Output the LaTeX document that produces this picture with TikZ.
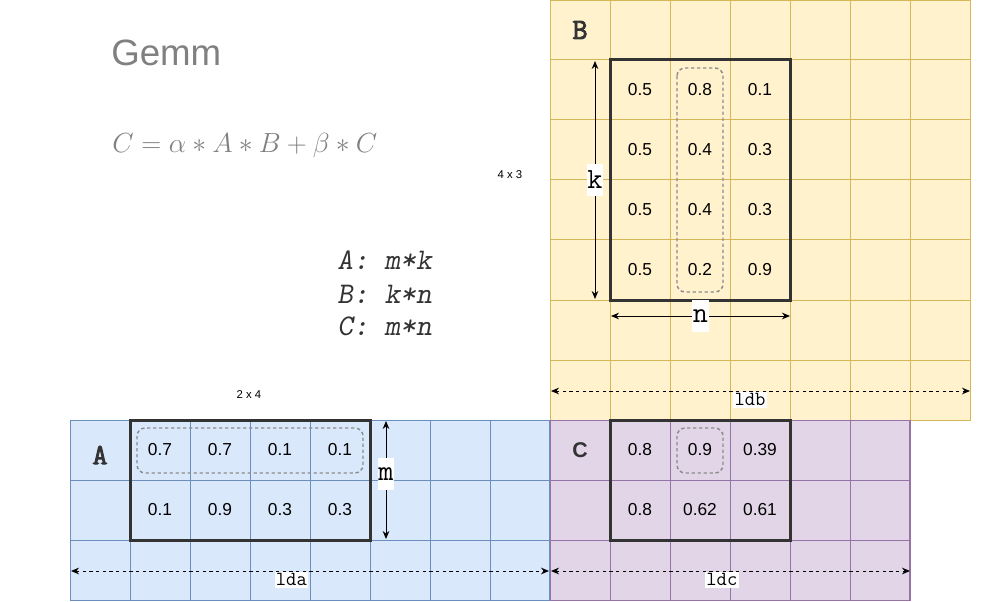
\documentclass[tikz,border=0pt]{standalone}
\usepackage[no-math]{fontspec}
\setmainfont{Liberation Sans}
\newfontfamily\monobold{Latin Modern Mono}[FakeBold=3]
\usepackage{tikz}
\usetikzlibrary{positioning,arrows.meta}
\definecolor{yfill}{HTML}{FFF2CC}
\definecolor{ystroke}{HTML}{D6B656}
\definecolor{bfill}{HTML}{DAE8FC}
\definecolor{bstroke}{HTML}{6C8EBF}
\definecolor{pfill}{HTML}{E1D5E7}
\definecolor{pstroke}{HTML}{9673A6}
\definecolor{darkline}{HTML}{333333}
\definecolor{selgray}{HTML}{8C8C8C}
\definecolor{titlegray}{HTML}{808080}

\begin{document}
\begin{tikzpicture}[
                x=0.75pt, y=-0.75pt,
                cell/.style={rectangle, minimum size=45pt, inner sep=0pt, outer sep=0pt, font=\fontsize{13}{15}\selectfont},
                gridline/.style={line width=0.75pt},
                matbox/.style={draw=darkline, line width=2.25pt},
                selbox/.style={draw=selgray, line width=1.1pt, dash pattern=on 2.5pt off 2pt, rounded corners=6pt},
                dimarrow/.style={{Stealth[length=6pt,width=5pt]}-{Stealth[length=6pt,width=5pt]}, line width=0.75pt},
                ldarrow/.style={dimarrow, dash pattern=on 2.5pt off 2.5pt},
                dimlabel/.style={fill=white, inner xsep=0.5pt, inner ysep=0pt, minimum height=24pt, font=\ttfamily\fontsize{22}{24}\selectfont},
                ldlabel/.style={fill=white, inner xsep=1pt, inner ysep=1.5pt, font=\ttfamily\fontsize{15}{17}\selectfont},
                matname/.style={text=darkline, inner sep=0pt, font=\monobold\fontsize{22}{26}\selectfont},
                sizelabel/.style={inner sep=0pt, font=\fontsize{8.5}{10}\selectfont},
                deftext/.style={text=black!80, inner sep=0pt, font=\ttfamily\slshape\fontsize{22.5}{26}\selectfont},
            ]
            \useasboundingbox (0,0) rectangle (981,602);

            \fill[yfill] (550,0) rectangle (970,420);
            \draw[gridline, ystroke, shift={(550,0)}] (0,420) grid[step=45pt] (420,0);
            \draw[gridline, ystroke] (550,0) rectangle (970,420);
            \fill[bfill] (70,420) rectangle (550,600);
            \draw[gridline, bstroke, shift={(70,420)}] (0,180) grid[step=45pt] (480,0);
            \draw[gridline, bstroke] (70,420) rectangle (550,600);
            \fill[pfill] (550,420) rectangle (910,600);
            \draw[gridline, pstroke, shift={(550,420)}] (0,180) grid[step=45pt] (360,0);
            \draw[gridline, pstroke] (550,420) rectangle (910,600);

            \node[anchor=west, inner sep=0pt, text=titlegray, font=\fontsize{27.5}{32}\selectfont] (title) at (111,53) {Gemm};
            \node[anchor=base west, inner sep=0pt, text=titlegray, font=\fontsize{20.5}{24}\selectfont] (formula) at (112,153) {$C=\alpha*A*B+\beta*C$};
            \node[deftext, anchor=base west] (defA) at (337,270) {A: m*k};
            \node[deftext, anchor=base west] (defB) at (337,303) {B: k*n};
            \node[deftext, anchor=base west] (defC) at (337,335) {C: m*n};
            \node[sizelabel] (sizeB) at (510,175) {4 x 3};
            \node[sizelabel] (sizeA) at (249,395) {2 x 4};

            \node[matname]  (nameB) at (580,30)  {B};
            \node[matname]  (nameA) at (100,455) {A};
            \node[text=darkline, inner sep=0pt, font=\bfseries\fontsize{16}{19}\selectfont] (nameC) at (580,450) {C};

            \node[cell] (b11) at (640,90)           {0.5};
            \node[cell] (b12) [right = 0 of b11]    {0.8};
            \node[cell] (b13) [right = 0 of b12]    {0.1};
            \node[cell] (b21) [below = 0 of b11]    {0.5};
            \node[cell] (b22) [right = 0 of b21]    {0.4};
            \node[cell] (b23) [right = 0 of b22]    {0.3};
            \node[cell] (b31) [below = 0 of b21]    {0.5};
            \node[cell] (b32) [right = 0 of b31]    {0.4};
            \node[cell] (b33) [right = 0 of b32]    {0.3};
            \node[cell] (b41) [below = 0 of b31]    {0.5};
            \node[cell] (b42) [right = 0 of b41]    {0.2};
            \node[cell] (b43) [right = 0 of b42]    {0.9};

            \node[cell] (a11) at (160,450)          {0.7};
            \node[cell] (a12) [right = 0 of a11]    {0.7};
            \node[cell] (a13) [right = 0 of a12]    {0.1};
            \node[cell] (a14) [right = 0 of a13]    {0.1};
            \node[cell] (a21) [below = 0 of a11]    {0.1};
            \node[cell] (a22) [right = 0 of a21]    {0.9};
            \node[cell] (a23) [right = 0 of a22]    {0.3};
            \node[cell] (a24) [right = 0 of a23]    {0.3};

            \node[cell] (c11) at (640,450)          {0.8};
            \node[cell] (c12) [right = 0 of c11]    {0.9};
            \node[cell] (c13) [right = 0 of c12]    {0.39};
            \node[cell] (c21) [below = 0 of c11]    {0.8};
            \node[cell] (c22) [right = 0 of c21]    {0.62};
            \node[cell] (c23) [right = 0 of c22]    {0.61};

            \draw[matbox] (b11.north west) rectangle (b43.south east);
            \draw[matbox] (a11.north west) rectangle (a24.south east);
            \draw[matbox] (c11.north west) rectangle (c23.south east);

            \draw[selbox] ([shift={(7,8)}]b12.north west) rectangle ([shift={(-7,-8)}]b42.south east);
            \draw[selbox] ([shift={(7,8)}]a11.north west) rectangle ([shift={(-7,-7)}]a14.south east);
            \draw[selbox] ([shift={(7,8)}]c12.north west) rectangle ([shift={(-7,-7)}]c12.south east);

            \coordinate (ktop) at (595,61);
            \coordinate (kbot) at (595,299);
            \coordinate (nleft) at (611,316);
            \coordinate (nright) at (790,316);
            \coordinate (mtop) at (386,421);
            \coordinate (mbot) at (386,539);
            \coordinate (ldbleft) at (551,391);
            \coordinate (ldbright) at (970,391);
            \coordinate (ldaleft) at (71,571);
            \coordinate (ldaright) at (549,571);
            \coordinate (ldcleft) at (551,571);
            \coordinate (ldcright) at (910,571);

            \draw[dimarrow] (ktop) -- node[dimlabel] (klabel) {k} (kbot);
            \draw[dimarrow] (nleft) -- node[dimlabel] (nlabel) {n} (nright);
            \draw[dimarrow] (mtop) -- node[dimlabel, pos=0.45] (mlabel) {m} (mbot);
            \draw[ldarrow] (ldbleft) -- node[ldlabel, anchor=north, pos=0.475] (ldblabel) {ldb} (ldbright);
            \draw[ldarrow] (ldaleft) -- node[ldlabel, anchor=north, pos=0.461] (ldalabel) {lda} (ldaright);
            \draw[ldarrow] (ldcleft) -- node[ldlabel, anchor=north, pos=0.476] (ldclabel) {ldc} (ldcright);
        \end{tikzpicture}
\end{document}
